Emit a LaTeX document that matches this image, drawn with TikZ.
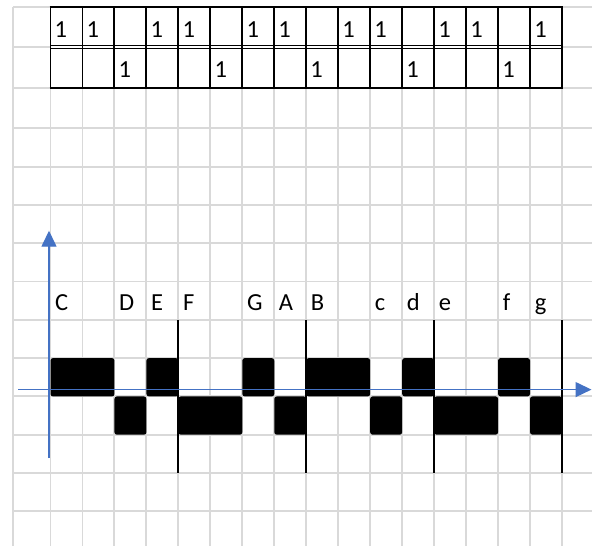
\documentclass[tikz,border=0pt]{standalone}
\usepackage{fontspec}
\setmainfont{Carlito}
\usetikzlibrary{arrows.meta}
\definecolor{gridgrey}{HTML}{D9D9D9}
\definecolor{axisblue}{HTML}{4472C4}
\tikzset{
  gridline/.style={draw=gridgrey, line width=1.9pt},
  tabline/.style={draw=black, line width=1.9pt},
  txt/.style={anchor=base west, inner sep=0pt, font=\fontsize{24.5}{28}\selectfont},
  blockfill/.style={fill=black, rounded corners=2.5pt},
  barline/.style={draw=black, line width=2pt},
  axis/.style={draw=axisblue, line width=1.4pt, -{Triangle[length=16pt,width=15pt]}}
}
\begin{document}
\begin{tikzpicture}[x=1pt,y=-1pt]
\def\cw{31.97}
\useasboundingbox (0,0) rectangle (592,546);
\fill[white] (0,0) rectangle (592,546);
% grid
\draw[gridline] (13,6.7) -- (13,546);
\foreach \k in {0,...,16} {
  \draw[gridline] ({50.5+\k*\cw},6.7) -- ({50.5+\k*\cw},546);
}
\foreach \y in {6.7,46.7,88.3,128.3,166.6,204.9,243.2,281.5,319.8,358.1,396.4,434.7,473,511.3} {
  \draw[gridline] (13,\y) -- (592,\y);
}
% table
\fill[white] (50.5,6.7) rectangle (562,88.3);
\foreach \k in {0,...,16} {
  \draw[tabline] ({50.5+\k*\cw},6.7) -- ({50.5+\k*\cw},88.3);
}
\draw[tabline] (49.6,6.7) -- (562.9,6.7);
\draw[tabline] (49.6,88.3) -- (562.9,88.3);
\draw[draw=black, line width=1.3pt] (50.5,45.3) -- (562,45.3);
\draw[draw=black, line width=1.3pt] (50.5,48.7) -- (562,48.7);
% table values
\foreach \c in {1,2,4,5,7,8,10,11,13,14,16} {
  \node[txt] (ra\c) at ({50.5+(\c-1)*\cw+4},37.3) {1};
}
\foreach \c in {3,6,9,12,15} {
  \node[txt] (rb\c) at ({50.5+(\c-1)*\cw+4},77.6) {1};
}
% note names
\foreach \c/\n/\t in {1/C/C,3/D/D,4/E/E,5/F/F,7/G/G,8/A/A,9/B/B,11/c1/c,12/d1/d,13/e1/e,15/f1/f,16/g1/g} {
  \node[txt] (n\n) at ({50.5+(\c-1)*\cw+4.5},310.7) {\t};
}
% blocks upper
\foreach \a/\b in {1/2,4/4,7/7,9/10,12/12,15/15} {
  \fill[blockfill] ({50.5+(\a-1)*\cw},358.1) rectangle ({50.5+\b*\cw},396.4);
}
% blocks lower
\foreach \a/\b in {3/3,5/6,8/8,11/11,13/14,16/16} {
  \fill[blockfill] ({50.5+(\a-1)*\cw},396.4) rectangle ({50.5+\b*\cw},434.7);
}
% bar lines
\foreach \k in {4,8,12,16} {
  \coordinate (bt\k) at ({50.5+\k*\cw},319.8);
  \coordinate (bb\k) at ({50.5+\k*\cw},473);
  \draw[barline] (bt\k) -- (bb\k);
}
% axes
\coordinate (yfrom) at (49,458);
\coordinate (yto) at (49,230.7);
\coordinate (xfrom) at (18,389.6);
\coordinate (xto) at (591.5,389.6);
\draw[axis] (yfrom) -- (yto);
\draw[axis] (xfrom) -- (xto);
\end{tikzpicture}
\end{document}
